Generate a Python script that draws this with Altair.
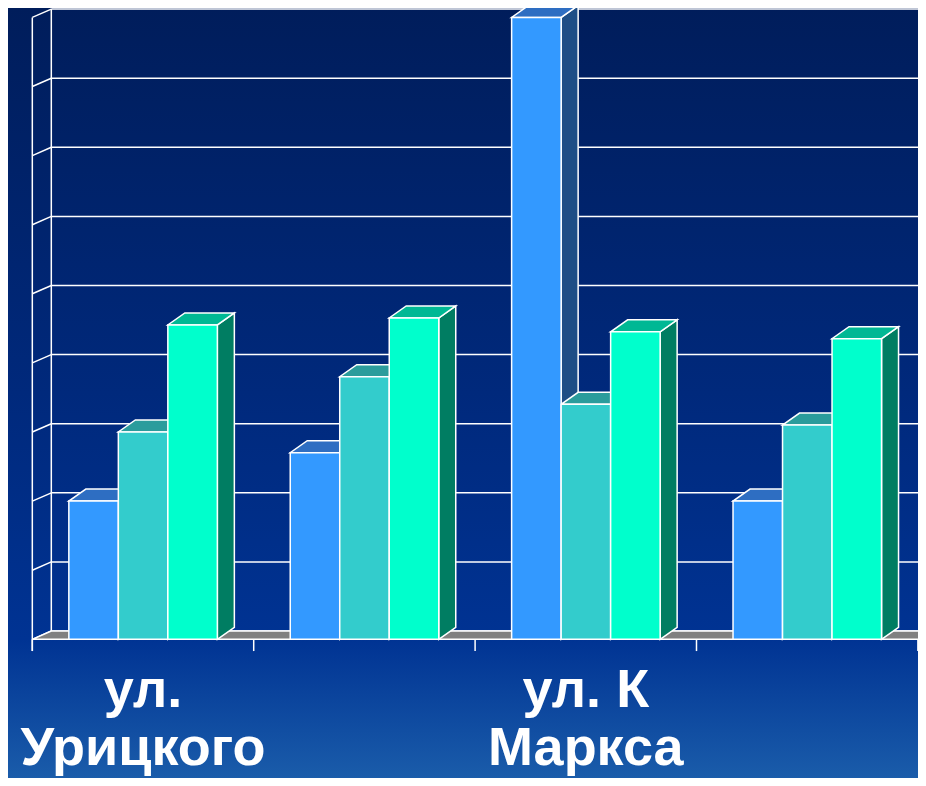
import altair as alt
import pandas as pd

# ---------------- data ----------------
categories = ["ул. Урицкого", "", "ул. К Маркса", ""]
cat_labels = ["ул.\nУрицкого", "", "ул. К\nМаркса", ""]
series1 = [20, 27, 90, 20]
series2 = [30, 38, 34, 31]
series3 = [45.5, 46.5, 44.5, 43.5]
y_ticks = [0, 10, 20, 30, 40, 50, 60, 70, 80, 90]

front_colors = ["#3399FF", "#33CCCC", "#00FFCC"]
top_colors = ["#2E6EC2", "#2A9C9C", "#00B894"]
side_colors = ["#1E4E86", "#1F6B6E", "#007D62"]

# ---------------- layout ----------------
W, H = 910, 770
X_DOMAIN = [-0.1098, 4.0005]
Y_DOMAIN = [-20.07, 91.36]
BAR_W = 0.2236
GROUP_PAD = 0.165
BAR_DX = 0.0768
BAR_DY = 1.737
WALL_DX = 0.0858
WALL_DY = 1.2
X_END = 4.4
TICK_LEN = 1.7

xs = alt.Scale(domain=X_DOMAIN, nice=False, zero=False)
ys = alt.Scale(domain=Y_DOMAIN, nice=False, zero=False)

series = [series1, series2, series3]

fronts, sides, tops = [], [], []
for g in range(len(categories)):
    for s, vals in enumerate(series):
        v = vals[g]
        xl = g + GROUP_PAD + s * BAR_W
        xr = xl + BAR_W
        bid = f"{g}-{s}"
        fronts.append(dict(bar=bid, xl=xl, xr=xr, y0=0, v=v, c=front_colors[s]))
        sides.append(dict(bar=bid, x=xr, y=0, y2=v, c=side_colors[s]))
        sides.append(dict(bar=bid, x=xr + BAR_DX, y=BAR_DY, y2=v + BAR_DY, c=side_colors[s]))
        tops.append(dict(bar=bid, x=xl, y=v, y2=v, c=top_colors[s]))
        tops.append(dict(bar=bid, x=xl + BAR_DX, y=v, y2=v + BAR_DY, c=top_colors[s]))
        tops.append(dict(bar=bid, x=xr, y=v, y2=v + BAR_DY, c=top_colors[s]))
        tops.append(dict(bar=bid, x=xr + BAR_DX, y=v + BAR_DY, y2=v + BAR_DY, c=top_colors[s]))

df_front = pd.DataFrame(fronts)
df_side = pd.DataFrame(sides)
df_top = pd.DataFrame(tops)

df_grid = pd.DataFrame({
    "xb": [WALL_DX] * len(y_ticks),
    "xe": [X_END] * len(y_ticks),
    "xf": [0.0] * len(y_ticks),
    "v": y_ticks,
    "vb": [t + WALL_DY for t in y_ticks],
})

df_edges = pd.DataFrame({
    "x": [0.0, WALL_DX],
    "y": [-TICK_LEN, WALL_DY],
    "y2": [max(y_ticks), max(y_ticks) + WALL_DY],
})

df_floor = pd.DataFrame({
    "x": [0.0, WALL_DX, X_END],
    "y": [0.0, 0.0, 0.0],
    "y2": [0.0, WALL_DY, WALL_DY],
})

df_ticks = pd.DataFrame({"x": list(range(len(categories) + 1)),
                         "y": [0.0] * (len(categories) + 1),
                         "y2": [-TICK_LEN] * (len(categories) + 1)})

df_labels = pd.DataFrame({"xc": [g + 0.5 for g in range(len(categories))],
                          "label": cat_labels})

WHITE = "#FFFFFF"

bg = alt.Chart(pd.DataFrame({"a": [0]})).mark_rect(
    color=alt.LinearGradient(
        gradient="linear", x1=0, x2=0, y1=0, y2=1,
        stops=[alt.GradientStop(offset=0, color="#001D5B"),
               alt.GradientStop(offset=0.5, color="#00297C"),
               alt.GradientStop(offset=0.82, color="#003393"),
               alt.GradientStop(offset=1, color="#1A5CAA")]
    )
).encode(x=alt.value(0), x2=alt.value(W), y=alt.value(0), y2=alt.value(H))

grid = alt.Chart(df_grid).mark_rule(color=WHITE, strokeWidth=1.5, clip=True).encode(
    x=alt.X("xb:Q", scale=xs, axis=None), x2="xe:Q",
    y=alt.Y("vb:Q", scale=ys, axis=None))

diag = alt.Chart(df_grid).mark_rule(color=WHITE, strokeWidth=1.5, clip=True).encode(
    x=alt.X("xf:Q", scale=xs, axis=None), x2="xb:Q",
    y=alt.Y("v:Q", scale=ys, axis=None), y2="vb:Q")

edges = alt.Chart(df_edges).mark_rule(color=WHITE, strokeWidth=1.5, clip=True).encode(
    x=alt.X("x:Q", scale=xs, axis=None),
    y=alt.Y("y:Q", scale=ys, axis=None), y2="y2:Q")

floor = alt.Chart(df_floor).mark_area(
    color="#808080", stroke=WHITE, strokeWidth=1.5, orient="vertical", clip=True
).encode(x=alt.X("x:Q", scale=xs, axis=None),
         y=alt.Y("y:Q", scale=ys, axis=None), y2="y2:Q")

ticks = alt.Chart(df_ticks).mark_rule(color=WHITE, strokeWidth=1.5, clip=True).encode(
    x=alt.X("x:Q", scale=xs, axis=None),
    y=alt.Y("y:Q", scale=ys, axis=None), y2="y2:Q")

side_layer = alt.Chart(df_side).mark_area(
    stroke=WHITE, strokeWidth=1.5, orient="vertical", clip=True, opacity=1
).encode(x=alt.X("x:Q", scale=xs, axis=None),
         y=alt.Y("y:Q", scale=ys, axis=None), y2="y2:Q",
         detail="bar:N",
         fill=alt.Fill("c:N", scale=None))

top_layer = alt.Chart(df_top).mark_area(
    stroke=WHITE, strokeWidth=1.5, orient="vertical", clip=True, opacity=1
).encode(x=alt.X("x:Q", scale=xs, axis=None),
         y=alt.Y("y:Q", scale=ys, axis=None), y2="y2:Q",
         detail="bar:N",
         fill=alt.Fill("c:N", scale=None))

front_layer = alt.Chart(df_front).mark_rect(stroke=WHITE, strokeWidth=1.5, clip=True).encode(
    x=alt.X("xl:Q", scale=xs, axis=None), x2="xr:Q",
    y=alt.Y("y0:Q", scale=ys, axis=None), y2="v:Q",
    fill=alt.Fill("c:N", scale=None))

labels = alt.Chart(df_labels).mark_text(
    font="Liberation Sans", fontWeight="bold", fontSize=54, color=WHITE,
    lineBreak="\n", lineHeight=58, align="center", baseline="top"
).encode(x=alt.X("xc:Q", scale=xs, axis=None), y=alt.value(656), text="label:N")

chart = alt.layer(bg, grid, diag, edges, floor, ticks, side_layer, top_layer,
                  front_layer, labels).properties(
    width=W, height=H, padding=0, autosize=alt.AutoSizeParams(type="none")
).configure_view(stroke=None)

chart.save("out.html", embed_options={"renderer": "svg", "actions": False})
